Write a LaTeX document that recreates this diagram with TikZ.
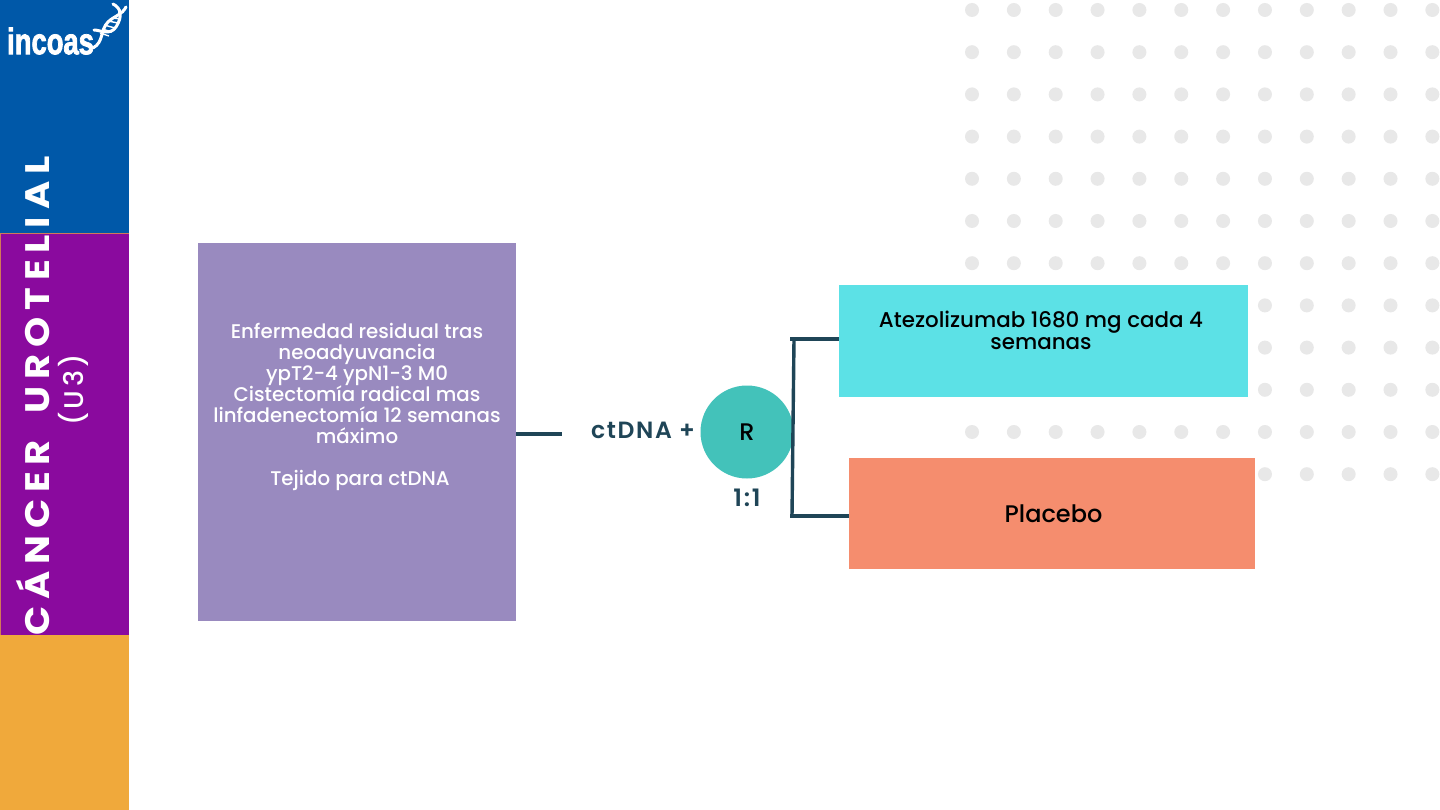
\documentclass[tikz,border=0pt]{standalone}
\usepackage{fontspec}
\setmainfont{Poppins}
\newfontfamily\sidefont[LetterSpace=20,UprightFont=*-Bold,FakeStretch=1.13]{Poppins}
\newfontfamily\subfont[LetterSpace=13,UprightFont=*-Medium]{Poppins}
\newfontfamily\medfont[UprightFont=*-Medium]{Poppins}
\newfontfamily\spfont[LetterSpace=7,UprightFont=*-SemiBold]{Poppins}
\newfontfamily\logofont[UprightFont=* Bold,FakeStretch=0.74,FakeBold=2]{Liberation Sans}
\definecolor{sideblue}{HTML}{0058A8}
\definecolor{sidepurple}{HTML}{8A0A9E}
\definecolor{sideorange}{HTML}{F0A93B}
\definecolor{boxpurple}{HTML}{998ABF}
\definecolor{boxcyan}{HTML}{5CE1E6}
\definecolor{boxsalmon}{HTML}{F58D6E}
\definecolor{circteal}{HTML}{43C2BA}
\definecolor{linedark}{HTML}{1F4557}
\definecolor{dotgrey}{HTML}{E8E8E8}
\tikzset{
  conn/.style={draw=linedark,line width=3.4pt},
  dna/.style={draw=white,line width=3pt,line cap=round},
  rung/.style={draw=white,line width=1.4pt}
}
\begin{document}
\begin{tikzpicture}[x=1pt,y=-1pt]
\useasboundingbox (0,0) rectangle (1440,810);
\fill[white] (0,0) rectangle (1440,810);
% dots
\foreach \r in {0,...,11}{
  \foreach \c in {0,...,11}{
    \fill[dotgrey] ({972+41.85*\c},{10+42.2*\r}) circle (7);
  }
}
% sidebar
\fill[sideblue] (0,0) rectangle (129,233);
\fill[sidepurple] (0,233) rectangle (129,635);
\fill[sideorange] (0,635) rectangle (129,810);
\draw[sideorange!70!sidepurple,line width=0.8pt] (129,233) -- (0,233) -- (0,635);
% logo
\node[text=white,anchor=west,inner sep=0pt] (logo) at (7,41) {\logofont\fontsize{37}{37}\selectfont incoas};
\draw[dna] (93,48) .. controls (104,42) and (100,30) .. (108,22) .. controls (114,16) and (122,15) .. (126,7);
\draw[dna] (113,4) .. controls (121,8) and (123,16) .. (116,27) .. controls (110,36) and (100,30) .. (94,30);
\foreach \a/\b/\cc/\d in {100/33/109/36, 102/29/112/32, 104/25/115/28, 108/21/118/23, 113/18/120/19, 118/12/124/12}{
  \draw[rung] (\a,\b) -- (\cc,\d);
}
% title
\node[rotate=90,text=white,inner sep=0pt] (title) at (33,396) {\sidefont\fontsize{34}{34}\selectfont CÁNCER\hspace{12pt} UROTELIAL};
\node[rotate=90,text=white,inner sep=0pt] (subtitle) at (73,390) {\subfont\fontsize{27}{27}\selectfont (U3)};
% boxes
\node[fill=boxpurple,minimum width=318pt,minimum height=378pt,inner sep=0pt] (pop) at (357,432) {};
\node[text=white,align=center,inner sep=0pt,font=\medfont\fontsize{19.8}{21}\selectfont] (poptext) at (357,407) {Enfermedad residual tras\\neoadyuvancia\\ypT2-4 ypN1-3 M0\hspace*{4pt}\\Cistectomía radical mas\\linfadenectomía 12 semanas\\máximo\\[21pt]\hspace*{6pt}Tejido para ctDNA};
\node[fill=boxcyan,minimum width=409pt,minimum height=112pt,inner sep=0pt] (armA) at (1043.5,341) {};
\node[align=center,inner sep=0pt,text=black,font=\medfont\fontsize{21.4}{22}\selectfont] (armAtext) at (1041,330.5) {Atezolizumab 1680 mg cada 4\\semanas};
\node[fill=boxsalmon,minimum width=406pt,minimum height=111pt,inner sep=0pt] (armB) at (1052,513.5) {};
\node[inner sep=0pt,text=black,font=\medfont\fontsize{24}{24}\selectfont] (armBtext) at (1053.5,513.5) {Placebo};
\node[circle,fill=circteal,minimum size=93pt,inner sep=0pt,text=black,font=\medfont\fontsize{24}{24}\selectfont] (R) at (747,432) {R};
\node[inner sep=0pt,text=linedark,font=\spfont\fontsize{23.5}{24}\selectfont] (ct) at (643,430) {ctDNA +};
\node[inner sep=0pt,text=linedark,font=\spfont\fontsize{24}{24}\selectfont] (ratio) at (747,498) {1:1};
% connectors
\coordinate (popend) at (562,434);
\coordinate (topj) at (790,339);
\coordinate (botj) at (790,516);
\draw[conn] (pop.east |- popend) -- (popend);
\draw[conn] (topj) -- (armA.west |- topj);
\draw[conn] (botj) -- (armB.west |- botj);
\draw[conn] (794,339) -- (792,516);
\end{tikzpicture}
\end{document}
